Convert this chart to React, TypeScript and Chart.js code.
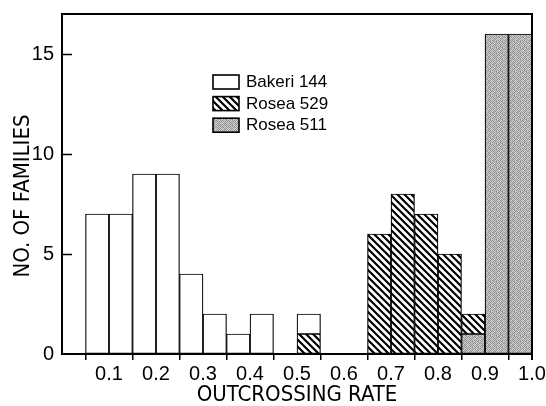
import React, { useEffect, useRef } from 'react';
import { Chart, registerables } from 'chart.js';

Chart.register(...registerables);

// Histogram bins (lower edge of each 0.05-wide bin)
const binStarts = [0.05, 0.1, 0.15, 0.2, 0.25, 0.3, 0.35, 0.4, 0.45, 0.5, 0.55, 0.6, 0.65, 0.7, 0.75, 0.8, 0.85, 0.9, 0.95];
const binWidth = 0.05;

// Counts per bin (stacked: Rosea 511 at bottom, Rosea 529, then Bakeri 144)
const bakeri144 = [7, 7, 9, 9, 4, 2, 1, 2, 0, 1, 0, 0, 0, 0, 0, 0, 0, 0, 0];
const rosea529 = [0, 0, 0, 0, 0, 0, 0, 0, 0, 1, 0, 0, 6, 8, 7, 5, 1, 0, 0];
const rosea511 = [0, 0, 0, 0, 0, 0, 0, 0, 0, 0, 0, 0, 0, 0, 0, 0, 1, 16, 16];

const seriesLabels = ['Bakeri 144', 'Rosea 529', 'Rosea 511'];
const xTitle = 'OUTCROSSING RATE';
const yTitle = 'NO. OF FAMILIES';
const xMin = 0;
const xMax = 1;
const xStep = 0.1;
const yMin = 0;
const yMax = 17;
const yStep = 5;

const TICK_FONT = '"Liberation Sans", Arial, sans-serif';
const TITLE_FONT = '"Liberation Sans Narrow", "DejaVu Sans Condensed", "Liberation Sans", sans-serif';

function makeHatch(): CanvasPattern | string {
  const s = 7;
  const c = document.createElement('canvas');
  c.width = s;
  c.height = s;
  const g = c.getContext('2d');
  if (!g) return '#888';
  g.fillStyle = '#fff';
  g.fillRect(0, 0, s, s);
  g.strokeStyle = '#000';
  g.lineWidth = 2.2;
  g.beginPath();
  g.moveTo(-2, -2);
  g.lineTo(s + 2, s + 2);
  g.moveTo(-2, s - 2);
  g.lineTo(2, s + 2);
  g.moveTo(s - 2, -2);
  g.lineTo(s + 2, 2);
  g.stroke();
  return g.createPattern(c, 'repeat') || '#888';
}

function makeStipple(): CanvasPattern | string {
  const levels = [
    [145, 200, 168, 212, 155, 190],
    [192, 138, 214, 152, 205, 146],
    [172, 220, 142, 196, 136, 215],
    [206, 160, 190, 140, 210, 166],
    [150, 198, 134, 218, 162, 188],
    [212, 146, 200, 156, 140, 205],
  ];
  const s = levels.length;
  const c = document.createElement('canvas');
  c.width = s;
  c.height = s;
  const g = c.getContext('2d');
  if (!g) return '#aaa';
  const img = g.createImageData(s, s);
  for (let r = 0; r < s; r++) {
    for (let q = 0; q < s; q++) {
      const i = (r * s + q) * 4;
      const v = levels[r][q];
      img.data[i] = v;
      img.data[i + 1] = v;
      img.data[i + 2] = v;
      img.data[i + 3] = 255;
    }
  }
  g.putImageData(img, 0, 0);
  return g.createPattern(c, 'repeat') || '#aaa';
}

function toPoints(values: number[]) {
  return binStarts.map((b, i) => ({ x: b + binWidth / 2, y: values[i] === 0 ? null : values[i] }));
}

export default function App() {
  const ref = useRef<HTMLCanvasElement | null>(null);

  useEffect(() => {
    if (!ref.current) return;
    const hatch = makeHatch();
    const stipple = makeStipple();

    const decorations = {
      id: 'decorations',
      afterDraw(chart: any) {
        const { ctx, chartArea } = chart;
        const { left, right, top, bottom } = chartArea;
        const yScale = chart.scales.y;
        ctx.save();
        // top and right frame
        ctx.strokeStyle = '#000';
        ctx.lineWidth = 2;
        ctx.beginPath();
        ctx.moveTo(left - 1, top);
        ctx.lineTo(right, top);
        ctx.lineTo(right, bottom + 6);
        ctx.stroke();
        // inward y ticks
        ctx.lineWidth = 1.5;
        for (let v = yStep; v <= yMax; v += yStep) {
          const py = Math.round(yScale.getPixelForValue(v)) + 0.5;
          ctx.beginPath();
          ctx.moveTo(left, py);
          ctx.lineTo(left + 10, py);
          ctx.stroke();
        }
        // y title
        ctx.fillStyle = '#000';
        ctx.font = `22px ${TITLE_FONT}`;
        ctx.textAlign = 'center';
        ctx.textBaseline = 'middle';
        ctx.translate(23, (top + bottom) / 2 + 12);
        ctx.rotate(-Math.PI / 2);
        ctx.fillText(yTitle, 0, 0);
        ctx.restore();

        // legend
        ctx.save();
        const fills = [null, hatch, stipple];
        const bx = left + 151;
        for (let i = 0; i < seriesLabels.length; i++) {
          const by = top + 61 + i * 21.6;
          ctx.fillStyle = i === 0 ? '#fff' : (fills[i] as any);
          ctx.fillRect(bx, by, 26, 14);
          ctx.strokeStyle = '#000';
          ctx.lineWidth = 1.6;
          ctx.strokeRect(bx, by, 26, 14);
          ctx.fillStyle = '#000';
          ctx.font = `17px ${TICK_FONT}`;
          ctx.textAlign = 'left';
          ctx.textBaseline = 'middle';
          ctx.fillText(seriesLabels[i], bx + 33, by + 7.5);
        }
        ctx.restore();
      },
    };

    const common = {
      borderColor: '#000',
      borderWidth: 1.2,
      borderSkipped: false as const,
      barPercentage: 1,
      categoryPercentage: 1,
    };

    const chart = new Chart(ref.current, {
      type: 'bar',
      data: {
        datasets: [
          { label: seriesLabels[2], data: toPoints(rosea511) as any, backgroundColor: stipple as any, ...common },
          { label: seriesLabels[1], data: toPoints(rosea529) as any, backgroundColor: hatch as any, ...common },
          { label: seriesLabels[0], data: toPoints(bakeri144) as any, backgroundColor: '#fff', ...common },
        ],
      },
      options: {
        animation: false,
        responsive: false,
        devicePixelRatio: 1,
        layout: { padding: { top: 14, right: 14, left: 0, bottom: 0 } },
        plugins: { legend: { display: false }, tooltip: { enabled: false } },
        scales: {
          x: {
            type: 'linear',
            min: xMin,
            max: xMax,
            offset: false,
            stacked: true,
            ticks: {
              stepSize: xStep,
              autoSkip: false,
              maxRotation: 0,
              color: '#000',
              padding: 2,
              font: { family: TICK_FONT, size: 20 },
              callback: (v: any) => (Math.abs(v) < 1e-9 ? '' : Number(v).toFixed(1)),
            },
            grid: {
              drawOnChartArea: false,
              drawTicks: true,
              tickLength: 6,
              lineWidth: 1.5,
              color: (c: any) => (c.tick && Math.abs(c.tick.value) < 1e-9 ? 'rgba(0,0,0,0)' : '#000'),
            },
            border: { display: true, color: '#000', width: 2 },
            title: {
              display: true,
              text: xTitle,
              color: '#000',
              font: { family: TITLE_FONT, size: 22, lineHeight: 1 },
              padding: { top: 0, bottom: 0 },
            },
            afterFit: (s: any) => {
              s.height = 52;
              s.paddingLeft = 0;
              s.paddingRight = 0;
            },
          },
          y: {
            type: 'linear',
            min: yMin,
            max: yMax,
            stacked: true,
            ticks: {
              stepSize: yStep,
              includeBounds: false,
              color: '#000',
              padding: 8,
              font: { family: TICK_FONT, size: 20 },
            },
            grid: { drawOnChartArea: false, drawTicks: false },
            border: { display: true, color: '#000', width: 2 },
            afterFit: (s: any) => {
              s.width = 62;
              s.paddingTop = 0;
              s.paddingBottom = 0;
            },
          },
        },
      } as any,
      plugins: [decorations],
    });
    return () => chart.destroy();
  }, []);

  return (
    <div style={{ position: 'fixed', left: 0, top: 0, width: 546, height: 406, background: '#fff' }}>
      <canvas ref={ref} width={546} height={406} style={{ width: 546, height: 406, display: 'block' }} />
    </div>
  );
}
